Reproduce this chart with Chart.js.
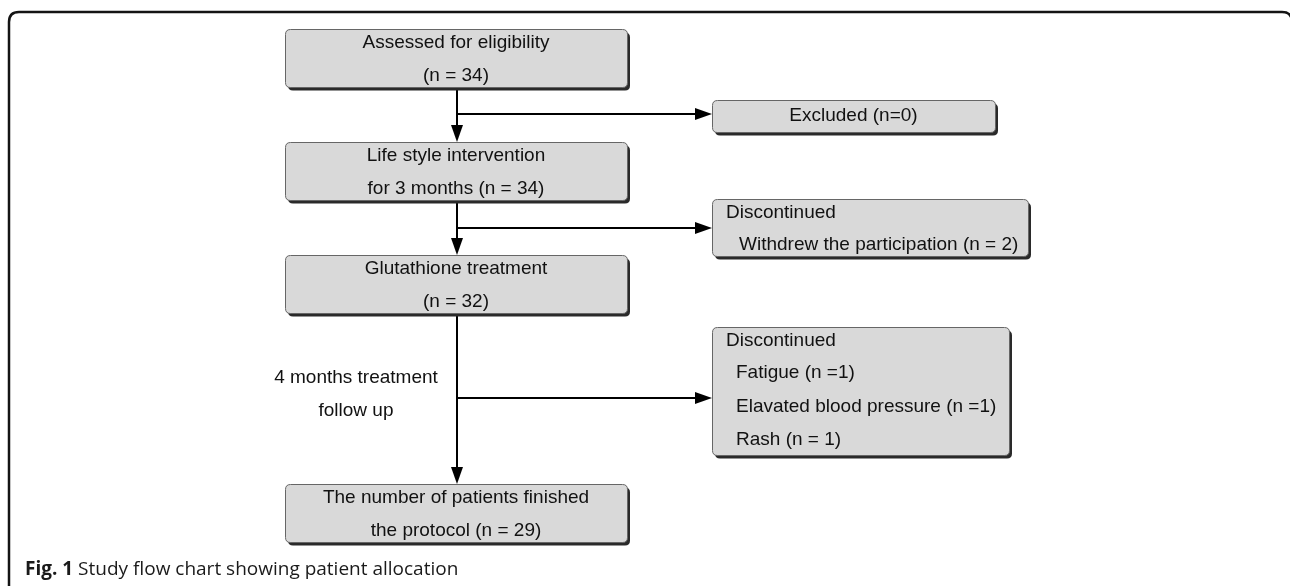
<!DOCTYPE html>
<html>
<head>
<meta charset="utf-8">
<script src="https://cdn.jsdelivr.net/npm/chart.js@4.4.1/dist/chart.umd.min.js"></script>
<style>
  html, body { margin: 0; padding: 0; background: #fff; }
  #wrap { width: 1290px; height: 586px; position: relative; }
</style>
</head>
<body>
<div id="wrap"><canvas id="flujo"></canvas></div>
<script>
// textos del diagrama
const boxTitles = ['Assessed for eligibility', 'Life style intervention', 'Glutathione treatment', 'The number of patients finished'];
const boxSubs   = ['(n = 34)', 'for 3 months (n = 34)', '(n = 32)', 'the protocol (n = 29)'];
const sideHeads = ['Excluded (n=0)', 'Discontinued', 'Discontinued'];
const sideItems = [[], ['Withdrew the participation (n = 2)'], ['Fatigue (n =1)', 'Elavated blood pressure (n =1)', 'Rash (n = 1)']];
const stepNote  = ['4 months treatment', 'follow up'];
const figLabel  = 'Fig. 1';
const figText   = 'Study flow chart showing patient allocation';

// posiciones (unidades de eje, 1 = 1px)
const mainBoxes = [[285, 29, 627, 87], [285, 142, 627, 200], [285, 255, 627, 313], [285, 484, 627, 542]];
const sideBoxes = [[712, 100, 995, 132], [712, 199, 1028, 256], [712, 327, 1009, 455]];
const trunkX = 457;
const branchY = [114, 228, 398];
const itemIndent = [0, 27, 24];

const FONT = '"Liberation Sans", Arial, sans-serif';

function rr(ctx, x, y, w, h, r) {
  ctx.beginPath();
  ctx.moveTo(x + r, y);
  ctx.lineTo(x + w - r, y);
  ctx.quadraticCurveTo(x + w, y, x + w, y + r);
  ctx.lineTo(x + w, y + h - r);
  ctx.quadraticCurveTo(x + w, y + h, x + w - r, y + h);
  ctx.lineTo(x + r, y + h);
  ctx.quadraticCurveTo(x, y + h, x, y + h - r);
  ctx.lineTo(x, y + r);
  ctx.quadraticCurveTo(x, y, x + r, y);
  ctx.closePath();
}

function caja(ctx, sx, sy, b) {
  const x0 = sx.getPixelForValue(b[0]), y0 = sy.getPixelForValue(b[1]);
  const x1 = sx.getPixelForValue(b[2]), y1 = sy.getPixelForValue(b[3]);
  ctx.fillStyle = '#2a2a2a';
  rr(ctx, x0 + 3, y0 + 3.5, x1 - x0, y1 - y0, 5);
  ctx.fill();
  ctx.fillStyle = '#d9d9d9';
  ctx.strokeStyle = '#666';
  ctx.lineWidth = 1;
  rr(ctx, x0 + 0.5, y0 + 0.5, x1 - x0, y1 - y0, 5);
  ctx.fill();
  ctx.stroke();
  return { x0, y0, x1, y1 };
}

function flecha(ctx, x, y, dir) {
  const L = 17, W = 6;
  ctx.fillStyle = '#000';
  ctx.beginPath();
  if (dir === 'down') {
    ctx.moveTo(x, y); ctx.lineTo(x - W, y - L); ctx.lineTo(x + W, y - L);
  } else {
    ctx.moveTo(x, y); ctx.lineTo(x - L, y - W); ctx.lineTo(x - L, y + W);
  }
  ctx.closePath();
  ctx.fill();
}

const dibujoPlugin = {
  id: 'dibujo',
  beforeDatasetsDraw(chart) {
    const ctx = chart.ctx, sx = chart.scales.x, sy = chart.scales.y;
    ctx.save();
    // marco de la figura
    ctx.strokeStyle = '#141414';
    ctx.lineWidth = 2.5;
    rr(ctx, sx.getPixelForValue(9), sy.getPixelForValue(12), 1283, 620, 10);
    ctx.stroke();
    ctx.restore();
  },
  afterDatasetsDraw(chart) {
    const ctx = chart.ctx, sx = chart.scales.x, sy = chart.scales.y;
    ctx.save();
    const xT = sx.getPixelForValue(trunkX);

    // flechas
    mainBoxes.slice(1).forEach(b => flecha(ctx, xT, sy.getPixelForValue(b[1]), 'down'));
    sideBoxes.forEach((b, i) => flecha(ctx, sx.getPixelForValue(b[0]), sy.getPixelForValue(branchY[i]), 'right'));

    // cajas principales
    ctx.font = '19px ' + FONT;
    ctx.textBaseline = 'middle';
    mainBoxes.forEach((b, i) => {
      const r = caja(ctx, sx, sy, b);
      const cx = (r.x0 + r.x1) / 2;
      ctx.fillStyle = '#111';
      ctx.textAlign = 'center';
      ctx.fillText(boxTitles[i], cx, r.y0 + 14);
      ctx.fillText(boxSubs[i], cx, r.y0 + 47);
    });

    // cajas laterales
    sideBoxes.forEach((b, i) => {
      const r = caja(ctx, sx, sy, b);
      ctx.fillStyle = '#111';
      if (!sideItems[i].length) {
        ctx.textAlign = 'center';
        ctx.fillText(sideHeads[i], (r.x0 + r.x1) / 2, (r.y0 + r.y1) / 2);
        return;
      }
      ctx.textAlign = 'left';
      ctx.fillText(sideHeads[i], r.x0 + 14, r.y0 + 14);
      sideItems[i].forEach((t, j) => {
        ctx.fillText(t, r.x0 + itemIndent[i], r.y0 + 46 + j * 33.5);
      });
    });

    // nota del tramo
    ctx.textAlign = 'center';
    ctx.fillText(stepNote[0], sx.getPixelForValue(356), sy.getPixelForValue(378));
    ctx.fillText(stepNote[1], sx.getPixelForValue(356), sy.getPixelForValue(411));

    // leyenda de la figura
    ctx.textAlign = 'left';
    ctx.fillStyle = '#1a1a1a';
    ctx.font = 'bold 19px "Open Sans", sans-serif';
    const fx = sx.getPixelForValue(25), fy = sy.getPixelForValue(570);
    ctx.fillText(figLabel, fx, fy);
    const w = ctx.measureText(figLabel + ' ').width;
    ctx.font = '19px "Open Sans", sans-serif';
    ctx.fillText(figText, fx + w, fy);
    ctx.restore();
  }
};

// conectores: tronco vertical y ramas horizontales
const conectores = [];
mainBoxes.slice(0, -1).forEach((b, i) => {
  conectores.push([{ x: trunkX, y: b[3] }, { x: trunkX, y: mainBoxes[i + 1][1] - 12 }]);
});
sideBoxes.forEach((b, i) => {
  conectores.push([{ x: trunkX, y: branchY[i] }, { x: b[0] - 12, y: branchY[i] }]);
});

new Chart(document.getElementById('flujo'), {
  type: 'scatter',
  data: {
    datasets: conectores.map(d => ({
      data: d,
      showLine: true,
      borderColor: '#000',
      borderWidth: 2,
      pointRadius: 0,
      borderCapStyle: 'butt'
    }))
  },
  options: {
    responsive: true,
    maintainAspectRatio: false,
    animation: false,
    layout: { padding: 0 },
    plugins: { legend: { display: false }, tooltip: { enabled: false } },
    scales: {
      x: { type: 'linear', min: 0, max: 1290, display: false },
      y: { type: 'linear', min: 0, max: 586, reverse: true, display: false }
    }
  },
  plugins: [dibujoPlugin]
});
</script>
</body>
</html>
